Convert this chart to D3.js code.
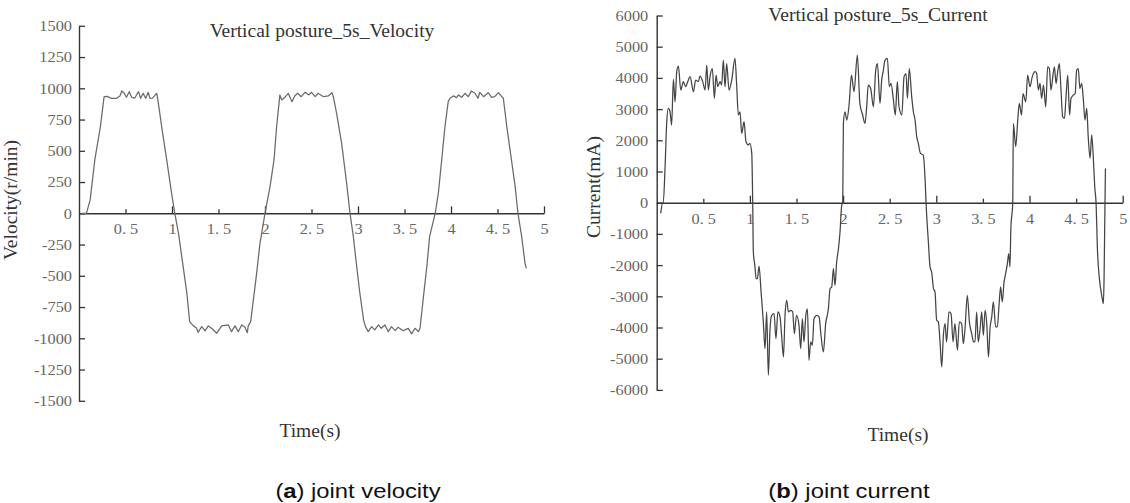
<!DOCTYPE html>
<html>
<head>
<meta charset="utf-8">
<script src="https://cdn.jsdelivr.net/npm/d3@7"></script>
<style>
  html, body { margin: 0; padding: 0; background: #fff; }
  svg { display: block; }
</style>
</head>
<body>
<svg id="chart" width="1130" height="503"></svg>
<script>
// ---------------- data ----------------
const xTicks = [0.5, 1, 1.5, 2, 2.5, 3, 3.5, 4, 4.5, 5];
const velYTicks = [-1500, -1250, -1000, -750, -500, -250, 0, 250, 500, 750, 1000, 1250, 1500];
const curYTicks = [-6000, -5000, -4000, -3000, -2000, -1000, 0, 1000, 2000, 3000, 4000, 5000, 6000];

const velTime = [0.02,0.08,0.12,0.17,0.23,0.27,0.30,0.35,0.405,0.44,0.46,0.487,0.51,0.54,0.566,0.60,0.64,0.663,0.69,0.717,0.745,0.763,0.79,0.835,0.846,
  0.889,0.943,0.996,1.03,1.07,1.12,1.16,1.19,1.22,1.265,1.28,1.32,1.355,1.39,1.426,1.48,1.534,1.606,1.64,1.677,1.713,1.749,1.785,1.81,1.82,1.846,
  1.875,1.91,1.946,2.0,2.054,2.097,2.125,2.16,2.18,2.22,2.25,2.29,2.32,2.35,2.39,2.43,2.47,2.5,2.54,2.57,2.63,2.68,2.72,2.735,
  2.77,2.824,2.878,2.914,2.95,2.986,3.02,3.06,3.08,3.11,3.147,3.18,3.22,3.25,3.29,3.326,3.36,3.4,3.43,3.487,3.54,3.577,3.613,3.65,3.667,
  3.70,3.74,3.77,3.83,3.864,3.9,3.935,3.97,3.99,4.025,4.06,4.08,4.115,4.15,4.186,4.22,4.258,4.29,4.31,4.35,4.4,4.437,4.47,4.51,4.545,4.563,
  4.6,4.65,4.69,4.72,4.76,4.796,4.81];
const velValues = [0,0,107,427,693,933,935,920,920,939,979,960,928,973,928,922,973,920,960,920,968,920,922,960,920,
  693,427,160,0,-160,-427,-640,-867,-893,-920,-952,-907,-941,-901,-920,-960,-901,-893,-947,-901,-947,-893,-912,-955,-901,-867,
  -693,-480,-240,0,213,427,693,947,907,933,960,893,939,960,933,968,947,968,933,960,933,939,965,933,
  800,560,240,0,-187,-427,-640,-853,-907,-947,-907,-933,-893,-920,-893,-947,-907,-939,-912,-939,-920,-965,-920,-947,-920,
  -693,-427,-187,0,160,427,693,893,920,939,925,947,928,960,933,979,960,920,968,933,965,928,933,965,933,920,
  693,427,213,0,-187,-400,-440];

const curTime = [0.043,0.065,0.07,0.09,0.107,0.125,0.143,0.16,0.179,0.197,0.215,0.233,0.258,0.286,0.31,0.333,0.358,0.394,0.418,0.447,0.465,0.494,
  0.519,0.537,0.554,0.572,0.597,0.619,0.637,0.655,0.68,0.697,0.715,0.733,0.751,0.776,0.805,0.84,0.858,0.876,0.894,0.912,0.937,0.958,0.984,1.0,1.02,
  1.03,1.037,1.055,1.066,1.08,1.098,1.12,1.144,1.162,1.18,1.198,1.216,1.234,1.259,1.28,1.3,1.323,1.34,1.36,1.377,1.395,1.413,1.438,1.459,1.477,
  1.5,1.527,1.545,1.563,1.58,1.6,1.617,1.634,1.652,1.67,1.688,1.717,1.742,1.763,1.788,1.813,1.842,1.86,1.878,1.896,1.913,1.931,1.95,1.967,1.985,1.996,
  2.003,2.02,2.04,2.064,2.09,2.117,2.153,2.18,2.21,2.235,2.253,2.27,2.296,2.325,2.35,2.368,2.396,2.414,2.43,2.45,2.475,2.496,2.514,2.54,2.56,
  2.582,2.6,2.63,2.654,2.675,2.69,2.71,2.736,2.754,2.772,2.79,2.807,2.83,2.86,2.88,2.89,
  2.915,2.933,2.95,2.97,2.986,3.004,3.022,3.04,3.058,3.076,3.094,3.11,3.136,3.158,3.18,3.2,3.227,3.247,3.272,3.29,3.308,3.333,3.355,3.38,3.4,3.415,
  3.433,3.45,3.47,3.487,3.505,3.523,3.54,3.56,3.576,3.595,3.612,3.637,3.655,3.673,3.69,3.708,3.727,3.74,3.76,3.777,3.79,3.8,3.82,
  3.827,3.852,3.874,3.89,3.915,3.93,3.96,3.98,4.005,4.03,4.06,4.077,4.095,4.113,4.13,4.15,4.174,4.195,4.213,4.23,4.25,4.267,4.285,4.3,4.32,4.338,
  4.356,4.375,4.39,4.41,4.43,4.445,4.47,4.49,4.506,4.524,4.54,4.56,4.577,4.595,4.614,4.63,4.65,4.667,4.685,4.7,4.714,
  4.73,4.75,4.775,4.793,4.8,4.81,4.815];
const curValues = [-340,0,0,1150,2540,3020,2915,2490,3950,3235,4200,4380,3610,3880,3717,3880,4040,3560,3930,3880,4060,3880,
  3610,4410,3610,4040,4300,3340,4090,3717,3880,3770,4570,3717,4460,3610,3930,4625,3770,2810,2915,2220,2595,1955,1850,1900,1580,
  0,-1580,-2060,-2435,-2435,-2030,-2860,-3820,-4680,-3500,-5530,-4040,-3610,-3555,-4360,-3500,-3660,-4250,-4945,-3610,-3130,-3500,-3450,-3500,-4200,
  -3610,-3930,-4680,-3717,-4460,-3610,-3400,-5050,-4460,-4570,-3717,-3610,-3660,-4250,-4785,-3877,-3400,-2755,-2700,-2115,-2650,-1900,-1475,-940,-85,0,
  2540,2915,2650,3130,4090,3560,4730,3180,2810,2540,3075,3770,3660,3075,4250,4460,3180,3930,4200,4570,4625,3717,3823,3290,2810,
  3877,3075,2810,4040,4140,3340,4300,3400,2915,2650,2115,1900,1580,1527,726,0,
  -1260,-2060,-2220,-2755,-2860,-3770,-3820,-4460,-5265,-4250,-3877,-4460,-3500,-3555,-4460,-3877,-4730,-3820,-3877,-4520,-4040,-2970,-3820,-4200,-4460,-4460,
  -3500,-4460,-4040,-3500,-4250,-3450,-3820,-4945,-4040,-3660,-3180,-3980,-3980,-3290,-2700,-3180,-2540,-2330,-2010,-1634,-2060,-833,0,
  2540,1795,2650,3180,2810,3500,3235,4090,3717,4040,4200,4140,3610,3823,3340,3770,3075,4357,4300,3610,4040,4357,3823,4140,4460,3610,
  2755,2700,3290,4090,2810,3340,3450,3500,4250,4300,3660,3823,3340,2650,3020,2115,1420,2170,1420,513,0,
  -1580,-2435,-2970,-3235,-2435,0,1100];

// ---------------- drawing ----------------
const svg = d3.select('#chart');
svg.append('rect').attr('width', 1130).attr('height', 503).attr('fill', '#fff');

const serif = "'Liberation Serif', 'Times New Roman', serif";
const sans = "'Liberation Sans', Arial, sans-serif";

function fmtX(d) { return Number.isInteger(d) ? String(d) : d.toFixed(1).replace('.', '. '); }

function panel(cfg) {
  const x = d3.scaleLinear().domain([0, 5]).range([cfg.x0, cfg.x1]);
  const y = d3.scaleLinear().domain([cfg.yTicks[0], cfg.yTicks[cfg.yTicks.length - 1]]).range([cfg.yb, cfg.yt]);
  const g = svg.append('g');

  // y axis
  const ya = g.append('g').attr('transform', `translate(${cfg.x0},0)`)
    .call(d3.axisLeft(y).tickValues(cfg.yTicks).tickSizeInner(-6).tickSizeOuter(0).tickFormat(d => String(d)));
  ya.select('.domain').attr('stroke', '#333').attr('stroke-width', 1.4);
  ya.selectAll('.tick line').attr('stroke', '#333').attr('stroke-width', 1.3);
  ya.selectAll('.tick text')
    .attr('x', null).attr('dy', '0.36em')
    .attr('transform', `translate(${cfg.yLabOff},0) scale(1.2,1)`)
    .attr('fill', '#666').attr('font-family', serif).attr('font-size', 13.6)
    .attr('text-anchor', 'end');

  // x axis at y=0
  const xa = g.append('g').attr('transform', `translate(0,${y(0)})`)
    .call(d3.axisBottom(x).tickValues(xTicks).tickSizeInner(0).tickSizeOuter(0).tickFormat(fmtX));
  xa.select('.domain').attr('stroke', '#333').attr('stroke-width', 1.4);
  xa.selectAll('.tick line')
    .attr('y2', d => Number.isInteger(d) ? -7 : -4)
    .attr('stroke', '#333').attr('stroke-width', 1.3);
  xa.selectAll('.tick text')
    .attr('y', 21).attr('dy', null)
    .attr('transform', 'scale(1.2,1)')
    .attr('fill', '#666').attr('font-family', serif).attr('font-size', 13.6);
  g.selectAll('g').attr('font-family', null).attr('font-size', null);

  // line
  const pts = cfg.t.map((t, i) => [t, cfg.v[i]]);
  g.append('path').datum(pts)
    .attr('fill', 'none').attr('stroke', cfg.color).attr('stroke-width', 1.25)
    .attr('stroke-linejoin', 'round')
    .attr('d', d3.line().x(d => x(d[0])).y(d => y(d[1])).curve(cfg.curve));

  // title
  g.append('text').attr('x', cfg.titleX).attr('y', cfg.titleY).attr('text-anchor', 'middle')
    .attr('font-family', serif).attr('font-size', 19.5).attr('fill', '#333').text(cfg.title);
  // y label
  g.append('text').attr('transform', `translate(${cfg.ylabX},${cfg.ylabY}) rotate(-90)`).attr('text-anchor', 'middle')
    .attr('font-family', serif).attr('font-size', 19.5).attr('fill', '#333').text(cfg.ylabel);
  // x label
  g.append('text').attr('x', cfg.xlabX).attr('y', cfg.xlabY).attr('text-anchor', 'middle')
    .attr('font-family', serif).attr('font-size', 19.5).attr('fill', '#333').text('Time(s)');
  // caption
  const cap = g.append('text').attr('transform', `translate(${cfg.capX},497.5) scale(1.19,1)`).attr('text-anchor', 'middle')
    .attr('font-family', sans).attr('font-size', 20).attr('fill', '#111');
  cap.append('tspan').text('(');
  cap.append('tspan').attr('font-weight', 'bold').text(cfg.capLetter);
  cap.append('tspan').text(') ' + cfg.capText);
}

panel({
  x0: 79, x1: 544, yt: 25.8, yb: 400.8, yTicks: velYTicks, yLabOff: -7,
  t: velTime, v: velValues, color: '#6a6a6a', curve: d3.curveLinear,
  title: 'Vertical posture_5s_Velocity', titleX: 322, titleY: 37,
  ylabel: 'Velocity(r/min)', ylabX: 17, ylabY: 200,
  xlabX: 310, xlabY: 437,
  capX: 358, capLetter: 'a', capText: 'joint velocity'
});

panel({
  x0: 656.7, x1: 1122.7, yt: 15.5, yb: 389.9, yTicks: curYTicks, yLabOff: -8.5,
  t: curTime, v: curValues, color: '#444', curve: d3.curveMonotoneX,
  title: 'Vertical posture_5s_Current', titleX: 878, titleY: 21,
  ylabel: 'Current(mA)', ylabX: 599.5, ylabY: 187,
  xlabX: 898, xlabY: 441,
  capX: 849, capLetter: 'b', capText: 'joint current'
});
</script>
</body>
</html>
